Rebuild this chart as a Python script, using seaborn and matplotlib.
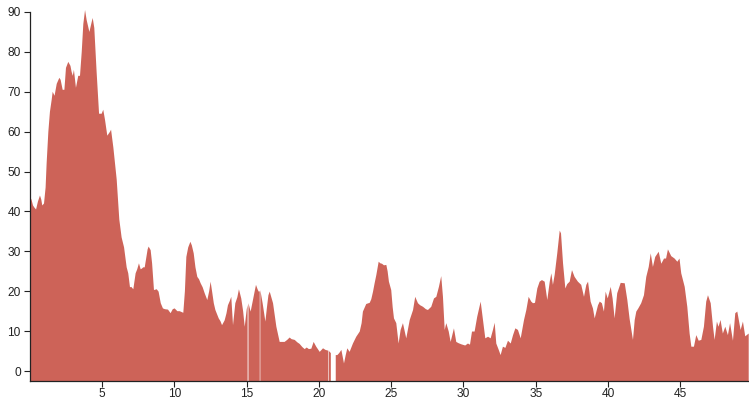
import numpy as np
import matplotlib
matplotlib.use('Agg')
import matplotlib.pyplot as plt
import seaborn as sns

# values (x position, height); nan = gap in the series
x_vals = [
    0.00, 0.10, 0.21, 0.30, 0.42, 0.55, 0.69, 0.78, 0.85, 0.97,
    1.08, 1.15, 1.27, 1.38, 1.50, 1.57, 1.70, 1.85, 2.03, 2.12,
    2.26, 2.38, 2.49, 2.65, 2.80, 2.88, 2.96, 3.04, 3.18, 3.34,
    3.46, 3.58, 3.69, 3.81, 3.92, 4.11, 4.27, 4.34, 4.45, 4.61,
    4.78, 4.96, 5.07, 5.19, 5.35, 5.54, 5.61, 5.77, 6.00, 6.18,
    6.34, 6.51, 6.69, 6.80, 6.92, 7.01, 7.15, 7.31, 7.42, 7.54,
    7.66, 7.75, 7.84, 7.94, 8.14, 8.21, 8.35, 8.45, 8.58, 8.77,
    8.90, 9.05, 9.20, 9.34, 9.55, 9.73, 9.88, 10.01, 10.20, 10.36,
    10.61, 10.72, 10.82, 10.95, 11.10, 11.20, 11.33, 11.45, 11.58, 11.70,
    11.81, 11.95, 12.09, 12.27, 12.40, 12.50, 12.60, 12.72, 12.83, 13.06,
    13.18, 13.29, 13.47, 13.60, 13.70, 13.82, 13.93, 14.05, 14.21, 14.35,
    14.46, 14.62, 14.75, 14.86, 15.00, 15.06, 15.09, 15.12, 15.27, 15.43,
    15.55, 15.64, 15.75, 15.83, 15.90, 15.92, 15.94, 16.10, 16.29, 16.40,
    16.50, 16.59, 16.82, 17.05, 17.28, 17.62, 17.80, 17.97, 18.10, 18.32,
    18.50, 18.66, 18.85, 19.01, 19.15, 19.30, 19.47, 19.63, 19.81, 20.05,
    20.28, 20.45, 20.65, 20.67, 20.69, 20.82, 20.95, 21.16, 21.27, 21.40,
    21.55, 21.73, 21.85, 21.96, 22.12, 22.35, 22.58, 22.82, 22.95, 23.04,
    23.27, 23.51, 23.62, 23.74, 23.85, 23.97, 24.13, 24.25, 24.36, 24.50,
    24.66, 24.75, 24.84, 25.00, 25.10, 25.19, 25.35, 25.51, 25.65, 25.81,
    26.04, 26.28, 26.51, 26.66, 26.85, 27.00, 27.20, 27.40, 27.54, 27.77,
    27.96, 28.12, 28.30, 28.46, 28.58, 28.70, 28.81, 28.98, 29.11, 29.34,
    29.50, 29.65, 29.85, 30.12, 30.31, 30.45, 30.59, 30.77, 30.95, 31.19,
    31.35, 31.51, 31.70, 31.88, 32.04, 32.16, 32.27, 32.44, 32.57, 32.73,
    32.90, 33.08, 33.27, 33.43, 33.59, 33.77, 33.96, 34.19, 34.35, 34.51,
    34.69, 34.81, 34.95, 35.11, 35.27, 35.43, 35.62, 35.80, 35.97, 36.08,
    36.19, 36.31, 36.49, 36.66, 36.75, 36.89, 37.05, 37.18, 37.35, 37.51,
    37.69, 37.92, 38.15, 38.34, 38.50, 38.62, 38.80, 38.96, 39.08, 39.31,
    39.43, 39.58, 39.72, 39.84, 39.98, 40.19, 40.32, 40.46, 40.64, 40.88,
    41.16, 41.34, 41.50, 41.73, 41.85, 41.96, 42.10, 42.30, 42.49, 42.65,
    42.82, 42.96, 43.11, 43.27, 43.51, 43.69, 43.88, 44.02, 44.15, 44.38,
    44.61, 44.80, 44.95, 45.07, 45.31, 45.49, 45.65, 45.77, 45.95, 46.11,
    46.28, 46.46, 46.64, 46.80, 46.92, 47.11, 47.27, 47.38, 47.54, 47.65,
    47.79, 47.95, 48.12, 48.30, 48.45, 48.65, 48.81, 48.95, 49.18, 49.34,
    49.50, 49.74,
]
nan = np.nan
y_vals = [
    43.6, 43.0, 41.5, 41.0, 40.5, 42.5, 44.0, 43.0, 41.5, 42.0,
    46.0, 52.0, 60.0, 65.0, 68.0, 70.0, 69.0, 72.0, 73.5, 73.0,
    70.5, 70.5, 76.0, 77.5, 76.5, 75.0, 74.0, 75.5, 71.0, 74.0,
    74.0, 80.0, 87.0, 90.5, 88.0, 85.0, 87.5, 88.5, 86.0, 75.0,
    64.5, 64.5, 65.5, 63.0, 59.0, 60.0, 60.5, 56.0, 48.0, 38.0,
    33.5, 31.0, 26.0, 24.5, 21.0, 21.1, 20.5, 24.5, 25.5, 27.0,
    25.5, 25.7, 26.0, 26.0, 30.5, 31.2, 30.3, 27.0, 20.3, 20.5,
    19.9, 17.0, 15.7, 15.5, 15.4, 14.5, 15.5, 15.7, 15.0, 15.0,
    14.6, 20.0, 28.6, 31.0, 32.4, 31.5, 29.5, 26.0, 23.6, 23.0,
    22.0, 21.0, 19.5, 17.8, 20.0, 22.4, 20.0, 17.0, 15.3, 13.2,
    12.5, 11.5, 12.7, 14.5, 16.5, 17.5, 18.6, 11.5, 17.0, 18.5,
    20.5, 18.2, 15.0, 11.1, 15.5, 16.5, nan, 17.0, 14.9, 17.8,
    20.0, 21.6, 20.5, 19.9, 20.0, nan, 20.3, 17.0, 12.4, 16.0,
    19.0, 19.9, 17.0, 11.1, 7.3, 7.3, 7.8, 8.4, 8.0, 7.8,
    7.2, 6.8, 6.0, 5.5, 5.9, 5.5, 5.6, 7.3, 6.1, 4.8,
    5.7, 5.3, 5.1, nan, 5.0, 4.5, nan, 4.0, 4.0, 4.5,
    5.3, 1.9, 4.0, 5.7, 4.8, 6.9, 8.6, 9.9, 12.0, 14.9,
    16.8, 17.1, 18.0, 19.9, 22.0, 24.1, 27.4, 27.0, 26.9, 26.5,
    26.6, 25.0, 22.4, 20.3, 16.0, 13.2, 12.0, 6.9, 10.3, 12.0,
    8.2, 12.8, 15.3, 18.6, 17.0, 16.5, 16.1, 15.5, 15.3, 16.1,
    18.2, 18.6, 21.1, 23.8, 18.6, 10.3, 12.0, 9.9, 7.3, 10.7,
    7.3, 7.0, 6.7, 6.4, 6.9, 6.6, 9.9, 9.9, 13.6, 17.4,
    12.8, 8.2, 8.6, 8.2, 10.3, 12.1, 6.9, 5.3, 4.0, 6.1,
    5.8, 7.6, 6.9, 9.0, 10.7, 10.3, 8.2, 12.8, 15.3, 18.6,
    17.4, 17.0, 17.1, 20.7, 22.4, 22.8, 22.4, 17.8, 22.4, 24.5,
    21.6, 24.1, 29.5, 35.2, 34.5, 27.0, 20.7, 21.8, 22.4, 25.3,
    23.6, 22.4, 21.6, 18.6, 21.6, 22.4, 17.4, 15.7, 13.2, 16.5,
    17.4, 17.0, 14.9, 19.9, 18.2, 21.1, 18.2, 13.2, 19.5, 22.1,
    22.0, 17.8, 13.0, 7.8, 12.8, 14.9, 15.7, 17.0, 19.0, 23.6,
    26.1, 29.5, 26.1, 28.6, 29.9, 26.9, 28.2, 28.2, 30.5, 28.8,
    28.2, 27.4, 28.2, 24.5, 21.1, 16.1, 9.4, 6.1, 6.1, 9.0,
    7.6, 7.8, 11.1, 17.4, 19.0, 17.0, 11.1, 7.8, 12.4, 11.1,
    12.8, 9.4, 11.1, 9.0, 12.0, 7.6, 14.5, 14.9, 10.3, 12.4,
    8.7, 9.4,
]
x_ticks = [5, 10, 15, 20, 25, 30, 35, 40, 45]
y_ticks = [0, 10, 20, 30, 40, 50, 60, 70, 80, 90]
y_lo, y_hi = -2.5, 90

sns.set_theme(style="ticks")
plt.rcParams['font.family'] = ['Liberation Sans', 'DejaVu Sans']

fig = plt.figure(figsize=(7.49, 4.0), dpi=100)
ax = fig.add_axes([30 / 749, 19 / 400, 719 / 749, 369 / 400])

x = np.array(x_vals)
y = np.array(y_vals)
# area runs down to the bottom of the plot, like the reference
ax.fill_between(x, y_lo, y, color='#cd6358', linewidth=0, clip_on=False)

ax.set_xlim(0, 49.76)
ax.set_ylim(y_lo, y_hi)
ax.set_xticks(x_ticks)
ax.set_yticks(y_ticks)
ax.tick_params(axis='both', length=4.3, width=0.8,
               labelsize=8.6, colors='#222222')
ax.tick_params(axis='y', pad=2.4)
ax.tick_params(axis='x', pad=0.8)
for s in ['left', 'bottom']:
    ax.spines[s].set_linewidth(0.9)
    ax.spines[s].set_color('#222222')
    ax.spines[s].set_zorder(3)
sns.despine(ax=ax)
ax.set_facecolor('white')
fig.patch.set_facecolor('white')

fig.savefig('out.png', dpi=100)
